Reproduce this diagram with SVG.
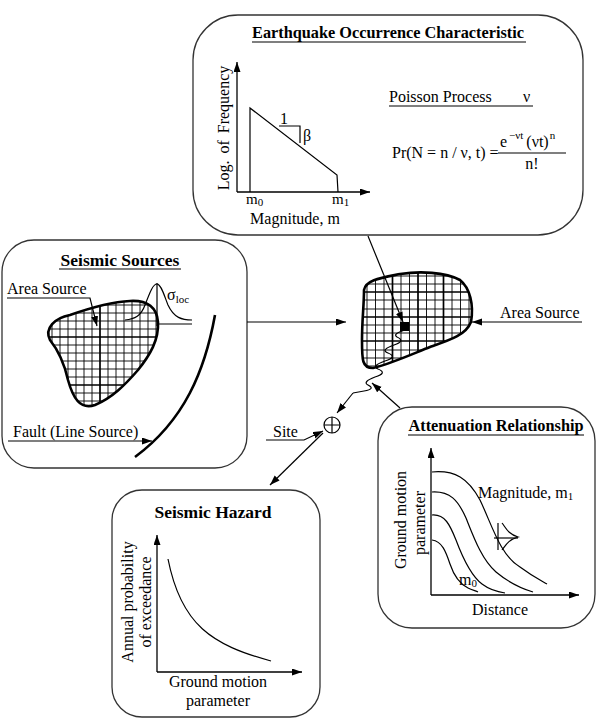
<svg xmlns="http://www.w3.org/2000/svg" width="597" height="728" viewBox="0 0 597 728">
<style>
text{font-family:"Liberation Serif","Times New Roman",serif;font-size:16px;fill:#000}
.t{font-weight:bold;font-size:16.3px}
.t2{font-weight:bold;font-size:17.5px}
.box{fill:#fff;stroke:#333;stroke-width:1.3}
.ln{fill:none;stroke:#000;stroke-width:1.2}
.ax{fill:none;stroke:#000;stroke-width:1.3;marker-end:url(#ah)}
.blob{fill:none;stroke:#000;stroke-width:2.6}
.grid{fill:none;stroke:#000;stroke-width:0.9}
.gridb{fill:none;stroke:#000;stroke-width:1.7}
.sub{font-size:11px}
.ml{font-size:15px}
</style>
<defs>
<marker id="ah" markerUnits="userSpaceOnUse" markerWidth="11" markerHeight="8" refX="10" refY="3.5" orient="auto">
<path d="M0,0 L10,3.5 L0,7 z" fill="#000"/>
</marker>
<clipPath id="cl1"><path d="M50,340 C44,328 55,318 70,315 C90,308 110,302 130,301 C148,300 157,308 158,322 C159,340 150,355 138,370 C125,385 112,398 95,405 C80,410 73,398 68,380 C64,362 58,350 50,340 Z"/></clipPath>
<clipPath id="cl2"><path d="M364,290 C366,280 380,278 400,274 C420,271 445,272 460,280 C470,288 474,305 471,322 C466,335 450,340 430,347 C410,355 390,364 373,368 C362,368 362,360 362,340 C362,320 364,305 364,290 Z"/></clipPath>
</defs>

<g id="eq-occurrence">
<rect class="box" x="193" y="15" width="390" height="220" rx="45" ry="45"/>
<text class="t" x="388" y="38" text-anchor="middle">Earthquake Occurrence Characteristic</text>
<line class="ln" x1="252" y1="42" x2="526" y2="42"/>
<line class="ax" x1="237" y1="192" x2="237" y2="62"/>
<line class="ax" x1="237" y1="192" x2="370" y2="192"/>
<polyline class="ln" points="250,192 250,108 337,175 338,192"/>
<polyline class="ln" points="279,126 300,126 300,143"/>
<text x="280" y="124">1</text>
<text x="303" y="141">β</text>
<text x="229" y="128" text-anchor="middle" transform="rotate(-90 229 128)" word-spacing="3">Log. of Frequency</text>
<text class="ml" x="246" y="204">m<tspan class="sub" dy="2">0</tspan></text>
<text class="ml" x="332" y="204">m<tspan class="sub" dy="2">1</tspan></text>
<text x="295" y="224" text-anchor="middle">Magnitude, m</text>
<text x="389" y="102">Poisson Process</text>
<text x="523" y="102">ν</text>
<line class="ln" x1="389" y1="106" x2="533" y2="106"/>
<text x="392" y="158">Pr(N = n / ν, t) =</text>
<text x="500" y="147">e<tspan class="sub" dy="-8" dx="2">−νt</tspan><tspan dy="8" dx="3">(νt)</tspan><tspan class="sub" dy="-8" dx="1">n</tspan></text>
<line class="ln" x1="498" y1="153" x2="566" y2="153"/>
<text x="532" y="169" text-anchor="middle">n!</text>
</g>

<g id="seismic-sources">
<rect class="box" x="2" y="240" width="245" height="228" rx="32" ry="32"/>
<text class="t2" x="120" y="266" text-anchor="middle">Seismic Sources</text>
<line class="ln" x1="59" y1="269" x2="181" y2="269"/>
<g clip-path="url(#cl1)">
<path class="grid" d="M52,300V410M60,300V410M68,300V410M76,300V410M84,300V410M92,300V410M108,300V410M116,300V410M124,300V410M132,300V410M140,300V410M148,300V410M156,300V410M45,305H160M45,313H160M45,321H160M45,329H160M45,345H160M45,353H160M45,361H160M45,369H160M45,377H160M45,393H160M45,401H160"/>
<path class="gridb" d="M100,300V410M45,337H160M45,385H160"/>
</g>
<path class="blob" d="M50,340 C44,328 55,318 70,315 C90,308 110,302 130,301 C148,300 157,308 158,322 C159,340 150,355 138,370 C125,385 112,398 95,405 C80,410 73,398 68,380 C64,362 58,350 50,340 Z"/>
<line class="ln" x1="157" y1="283" x2="157" y2="326"/>
<line class="ln" x1="157" y1="324" x2="192" y2="324"/>
<path class="ln" d="M125,320 C135,319 141,316 145,305 C150,292 153,284 157,284 C161,284 164,295 168,305 C174,318 182,320 192,320"/>
<text x="167" y="300">σ<tspan class="sub" dy="3">loc</tspan></text>
<text x="7" y="294">Area Source</text>
<polyline class="ln" points="7,298 90,298 97,326" marker-end="url(#ah)"/>
<path d="M215,315 C205,370 185,420 135,457" fill="none" stroke="#000" stroke-width="2.6"/>
<text x="13" y="437">Fault (Line Source)</text>
<line class="ln" x1="8" y1="441" x2="152" y2="441" marker-end="url(#ah)"/>
</g>

<g id="site-source">
<g clip-path="url(#cl2)">
<path class="grid" d="M367,270V372M375.5,270V372M384,270V372M401,270V372M409.5,270V372M426.5,270V372M435,270V372M452,270V372M460.5,270V372M469,270V372M360,276H475M360,284H475M360,300H475M360,309H475M360,325H475M360,333H475M360,350H475M360,358H475M360,366H475"/>
<path class="gridb" d="M392.5,270V372M418,270V372M443.5,270V372M360,292H475M360,317H475M360,341H475"/>
</g>
<path class="blob" d="M364,290 C366,280 380,278 400,274 C420,271 445,272 460,280 C470,288 474,305 471,322 C466,335 450,340 430,347 C410,355 390,364 373,368 C362,368 362,360 362,340 C362,320 364,305 364,290 Z"/>
<rect x="400" y="322" width="9" height="9" fill="#000"/>
<path class="ln" d="M405,330 Q392,334 397,337 Q406,341 394,345 Q380,350 388,353 Q398,357 385,361 Q371,366 378,369 Q388,373 375,377 Q362,382 368,385 Q376,389 364,391 L353,393"/>
<text x="500" y="318">Area Source</text>
</g>

<g id="site">
<circle cx="332" cy="425" r="8" fill="#fff" stroke="#000" stroke-width="1.2"/>
<path class="ln" d="M324,425H340M332,417V433"/>
<text x="273" y="437">Site</text>
</g>

<g id="attenuation">
<rect class="box" x="378" y="407" width="217" height="221" rx="34" ry="34"/>
<text class="t" x="496" y="431" text-anchor="middle">Attenuation Relationship</text>
<line class="ln" x1="408" y1="435" x2="584" y2="435"/>
<line class="ax" x1="431" y1="595" x2="431" y2="448"/>
<line class="ax" x1="431" y1="595" x2="579" y2="595"/>
<path class="ln" d="M432,472 C455,470 468,478 480,500 C492,525 500,555 520,567 C532,576 540,580 547,584"/>
<path class="ln" d="M432,492 C450,491 458,500 466,518 C474,538 482,560 496,572 C508,582 520,588 533,592"/>
<path class="ln" d="M432,515 C445,514 450,525 456,540 C462,556 470,575 482,584 C490,590 498,592 505,593"/>
<path class="ln" d="M432,540 C442,541 446,552 450,564 C454,576 460,584 468,588 C472,590 476,591 478,592"/>
<line class="ln" x1="498" y1="523" x2="498" y2="550"/>
<line class="ln" x1="494" y1="538" x2="518" y2="538"/>
<path class="ln" d="M502,523 C506,528 508,534 518,537 C508,540 506,545 502,550"/>
<text x="478" y="498">Magnitude, m<tspan class="sub" dy="2">1</tspan></text>
<text x="459" y="585">m<tspan class="sub" dy="2">0</tspan></text>
<text x="406" y="520" text-anchor="middle" transform="rotate(-90 406 520)">Ground motion</text>
<text x="425" y="523" text-anchor="middle" transform="rotate(-90 425 523)">parameter</text>
<text x="500" y="615" text-anchor="middle">Distance</text>
</g>

<g id="seismic-hazard">
<rect class="box" x="112" y="490" width="208" height="227" rx="30" ry="30"/>
<text class="t2" x="213" y="518" text-anchor="middle">Seismic Hazard</text>
<line class="ax" x1="157" y1="672" x2="157" y2="535"/>
<line class="ax" x1="157" y1="672" x2="302" y2="672"/>
<path class="ln" d="M168,559 C181,625 212,645 271,661"/>
<text x="133" y="602" text-anchor="middle" transform="rotate(-90 133 602)">Annual probability</text>
<text x="151" y="602" text-anchor="middle" transform="rotate(-90 151 602)">of exceedance</text>
<text x="218" y="687" text-anchor="middle">Ground motion</text>
<text x="218" y="706" text-anchor="middle">parameter</text>
</g>

<g id="connectors">
<line class="ln" x1="368" y1="236" x2="403" y2="322" marker-end="url(#ah)"/>
<line class="ln" x1="247" y1="322" x2="346" y2="322" marker-end="url(#ah)"/>
<line class="ln" x1="582" y1="322" x2="472" y2="322" marker-end="url(#ah)"/>
<line class="ln" x1="400" y1="408" x2="372" y2="383" marker-end="url(#ah)"/>
<line class="ln" x1="353" y1="393" x2="337" y2="413" marker-end="url(#ah)"/>
<polyline class="ln" points="266,440 304,440 323,431" marker-end="url(#ah)"/>
<line class="ln" x1="323" y1="433" x2="270" y2="485" marker-end="url(#ah)"/>
</g>
</svg>
